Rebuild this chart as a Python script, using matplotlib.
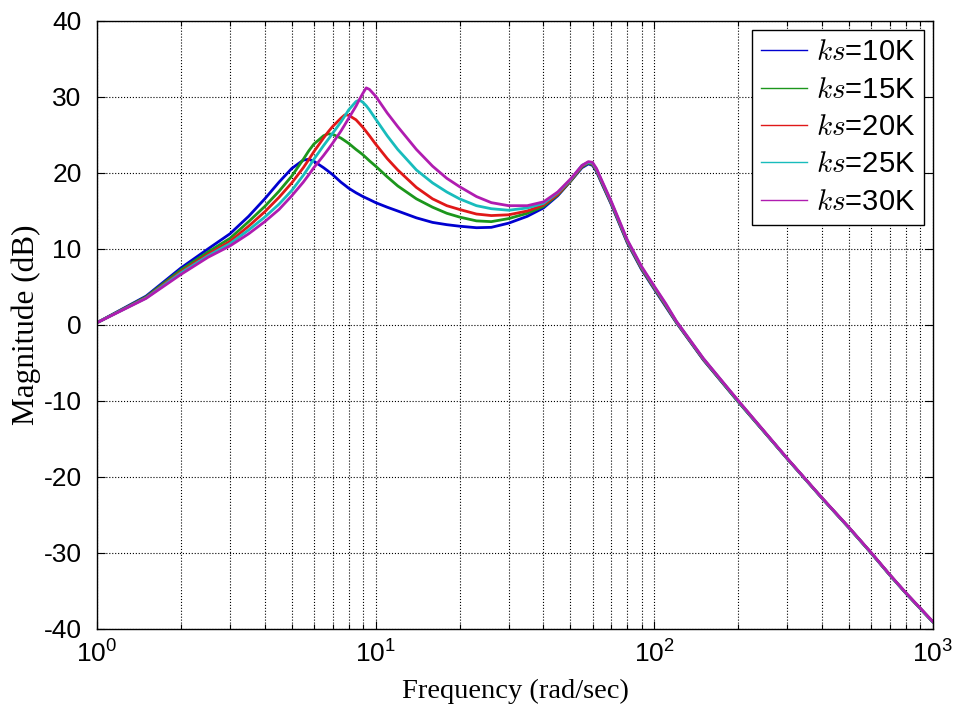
import matplotlib
matplotlib.use("Agg")
import matplotlib.pyplot as plt
from matplotlib.font_manager import FontProperties
from matplotlib.lines import Line2D

# Frequency grid (rad/sec)
freq = [1, 1.5, 2, 2.5, 3, 3.5, 4, 4.5, 5, 5.5, 5.75, 6, 6.5, 6.75, 7, 7.5, 7.75,
        8, 8.5, 8.75, 9, 9.25, 9.5, 10, 11, 12, 14, 16, 18, 20, 23, 26, 30, 35,
        40, 45, 50, 55, 58, 60, 62, 65, 70, 80, 90, 100, 110, 120, 150, 200, 300,
        400, 500, 600, 700, 800, 900, 1000]

# Magnitude responses (dB) for each shaft stiffness
mag_10k = [0.3, 3.8, 7.5, 10.0, 12.0, 14.3, 16.6, 18.8, 20.6, 21.7, 21.8, 21.55,
           20.7, 20.25, 19.8, 18.8, 18.4, 18.0, 17.4, 17.15, 16.9, 16.7, 16.5,
           16.1, 15.5, 15.0, 14.1, 13.5, 13.2, 13.0, 12.8, 12.85, 13.4, 14.3, 15.4,
           17.0, 18.9, 20.7, 21.2, 21.0, 20.2, 18.5, 15.9, 10.8, 7.3, 4.7, 2.4, 0.3,
           -4.6, -10.1, -17.6, -22.8, -26.7, -30.0, -32.9, -35.3, -37.3, -39.1]
mag_15k = [0.3, 3.7, 7.25, 9.6, 11.4, 13.6, 15.6, 17.6, 19.6, 21.8, 22.9, 23.8,
           24.9, 25.15, 25.1, 24.6, 24.25, 23.9, 23.1, 22.75, 22.4, 22.0, 21.6,
           20.9, 19.5, 18.3, 16.6, 15.5, 14.7, 14.2, 13.7, 13.6, 14.0, 14.7, 15.6,
           17.1, 18.9, 20.8, 21.3, 21.1, 20.3, 18.6, 16.0, 10.9, 7.4, 4.8, 2.5,
           0.35, -4.55, -10.1, -17.6, -22.8, -26.7, -30.0, -32.9, -35.3, -37.3, -39.1]
mag_20k = [0.3, 3.6, 7.0, 9.3, 11.0, 13.0, 14.9, 16.8, 18.7, 20.7, 21.75, 22.8,
           24.6, 25.4, 26.1, 27.2, 27.65, 27.6, 27.0, 26.5, 26.0, 25.45, 24.9,
           23.8, 21.9, 20.4, 18.1, 16.6, 15.7, 15.2, 14.6, 14.4, 14.5, 15.0, 15.8,
           17.2, 19.0, 20.9, 21.4, 21.2, 20.4, 18.7, 16.1, 11.0, 7.5, 4.9, 2.6, 0.4,
           -4.5, -10.0, -17.6, -22.8, -26.7, -30.0, -32.9, -35.3, -37.3, -39.1]
mag_25k = [0.3, 3.55, 6.85, 9.1, 10.7, 12.5, 14.2, 15.9, 17.7, 19.7, 20.75, 21.8,
           23.6, 24.4, 25.2, 26.7, 27.5, 28.3, 29.4, 29.6, 29.3, 28.85, 28.3,
           27.1, 24.9, 23.1, 20.4, 18.7, 17.5, 16.6, 15.7, 15.3, 15.1, 15.4, 16.0,
           17.4, 19.1, 21.0, 21.4, 21.3, 20.5, 18.8, 16.2, 11.1, 7.6, 5.0, 2.7,
           0.45, -4.45, -10.0, -17.6, -22.8, -26.7, -30.0, -32.9, -35.3, -37.3, -39.1]
mag_30k = [0.3, 3.5, 6.65, 8.9, 10.4, 12.0, 13.6, 15.2, 17.0, 18.8, 19.75, 20.7,
           22.3, 23.1, 23.9, 25.5, 26.35, 27.2, 28.8, 29.7, 30.5, 31.2, 31.0,
           30.1, 27.9, 26.1, 23.1, 20.9, 19.3, 18.2, 16.9, 16.1, 15.7, 15.7, 16.2,
           17.5, 19.2, 21.0, 21.5, 21.4, 20.6, 18.9, 16.3, 11.2, 7.7, 5.1, 2.8, 0.5,
           -4.4, -9.95, -17.55, -22.75, -26.65, -29.95, -32.85, -35.25, -37.25,
           -39.05]

series = [mag_10k, mag_15k, mag_20k, mag_25k, mag_30k]
labels = ["10K", "15K", "20K", "25K", "30K"]
colors = ["#0000d0", "#1c961c", "#e01818", "#18bcbc", "#b01cb0"]

sans = "Liberation Sans"
serif = "Liberation Serif"
plt.rcParams["font.family"] = [sans, "DejaVu Sans"]
plt.rcParams["axes.unicode_minus"] = False

fig = plt.figure(figsize=(9.59, 7.25), dpi=100)
fig.patch.set_facecolor("white")
ax = fig.add_axes([97 / 959, 1 - 629 / 725, (933 - 97) / 959, (629 - 21) / 725])

for mag, col in zip(series, colors):
    ax.plot(freq, mag, color=col, linewidth=2.0, solid_joinstyle="round",
            solid_capstyle="round")

ax.set_xscale("log")
ax.set_xlim(1, 1000)
ax.set_ylim(-40, 40)
ax.set_yticks(range(-40, 41, 10))

ax.grid(True, which="major", linestyle=":", color="black", linewidth=0.8)
ax.grid(True, which="minor", axis="x", linestyle=":", color="black", linewidth=0.8)

ax.tick_params(which="both", direction="in", top=True, right=True,
               labelsize=19, colors="black")
ax.tick_params(which="major", length=6, width=0.8)
ax.tick_params(which="minor", length=3.5, width=0.8)
ax.tick_params(axis="y", which="major", pad=11)
ax.tick_params(axis="x", which="major", pad=8)
for sp in ax.spines.values():
    sp.set_linewidth(1.0)
    sp.set_color("black")

ax.set_xlabel("Frequency (rad/sec)", fontfamily=serif, fontsize=20.5, labelpad=8)
ax.set_ylabel("Magnitude (dB)", fontfamily=serif, fontsize=22.5, labelpad=2)

handles = [Line2D([], [], color=c, linewidth=1.0) for c in colors]
leg_labels = [r"$ks$=" + lab for lab in labels]
leg = ax.legend(handles, leg_labels, loc="upper right", frameon=True,
                fancybox=False, edgecolor="black", framealpha=1.0,
                prop=FontProperties(family=sans, size=21, math_fontfamily="cm"),
                handlelength=1.6, handletextpad=0.3, labelspacing=0.32,
                borderpad=0.3, borderaxespad=0.3)
leg.get_frame().set_linewidth(1.0)

fig.savefig("out.png", dpi=100, facecolor="white")
